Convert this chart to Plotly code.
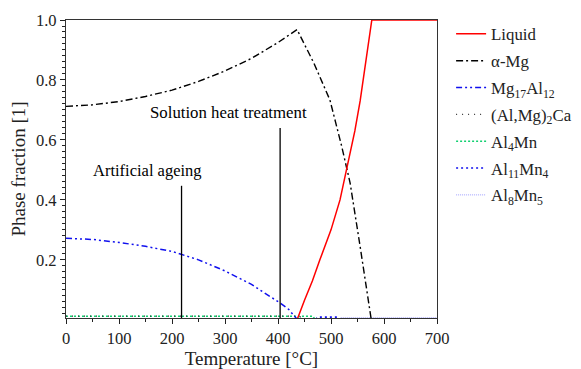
import plotly.graph_objects as go

# ---- data ----
liq_T = [0, 436, 450, 465, 479, 500, 517, 530, 545, 555, 565, 572, 577, 700]
liq_f = [0, 0, 0.065, 0.13, 0.2, 0.30, 0.40, 0.51, 0.63, 0.73, 0.85, 0.94, 1.0, 1.0]

amg_T = [0, 50, 100, 150, 200, 250, 300, 350, 400, 436, 468, 498, 520, 536, 555, 565, 576, 700]
amg_f = [0.712, 0.717, 0.728, 0.745, 0.766, 0.795, 0.83, 0.872, 0.925, 0.968, 0.855, 0.733, 0.58, 0.457, 0.244, 0.13, 0, 0]

mga_T = [0, 50, 100, 150, 200, 250, 300, 350, 404, 420, 437, 700]
mga_f = [0.272, 0.268, 0.258, 0.245, 0.228, 0.2, 0.163, 0.118, 0.056, 0.035, 0.0, 0.0]

ca_T = [0, 440, 450, 700]
ca_f = [0.012, 0.012, 0, 0]

al4mn_T = [0, 466, 470, 700]
al4mn_f = [0.012, 0.012, 0, 0]

al11_T = [0, 470, 475, 513, 518, 700]
al11_f = [0, 0, 0.009, 0.009, 0, 0]

al8_T = [0, 513, 518, 700]
al8_f = [0, 0, 0.007, 0.007]

ageing_T = 218
ageing_top = 0.447
sht_T = 404
sht_top = 0.64

FONT = "'Liberation Serif', 'DejaVu Serif', serif"

fig = go.Figure()

def add(x, y, name, color, dash, width=1.5):
    fig.add_trace(go.Scatter(x=x, y=y, mode="lines", name=name, legendgroup=name,
                             line=dict(color=color, dash=dash, width=width)))

add(al4mn_T, al4mn_f, "Al<sub>4</sub>Mn", "#10d070", "2px,2px", 1.6)
add(ca_T, ca_f, "(Al,Mg)<sub>2</sub>Ca", "#333333", "1px,5px", 1.3)
add(al11_T, al11_f, "Al<sub>11</sub>Mn<sub>4</sub>", "#1010ee", "2px,3px", 1.6)
add(al8_T, al8_f, "Al<sub>8</sub>Mn<sub>5</sub>", "#a0a0ff", "1px,1px", 1.0)
add(mga_T, mga_f, "Mg<sub>17</sub>Al<sub>12</sub>", "#1010ee", "6px,3px,2px,3px,2px,3px", 1.5)
add(amg_T, amg_f, "α-Mg", "black", "7px,3px,2px,3px", 1.4)
add(liq_T, liq_f, "Liquid", "#ff0000", "solid", 1.5)

# legend order as in reference
order = ["Liquid", "α-Mg", "Mg<sub>17</sub>Al<sub>12</sub>", "(Al,Mg)<sub>2</sub>Ca",
         "Al<sub>4</sub>Mn", "Al<sub>11</sub>Mn<sub>4</sub>", "Al<sub>8</sub>Mn<sub>5</sub>"]
for tr in fig.data:
    tr.legendrank = order.index(tr.name)

# process markers
fig.add_shape(type="line", x0=ageing_T, x1=ageing_T, y0=0, y1=ageing_top,
              line=dict(color="black", width=1.3))
fig.add_shape(type="line", x0=sht_T, x1=sht_T, y0=0, y1=sht_top,
              line=dict(color="black", width=1.3))
fig.add_annotation(x=ageing_T, y=ageing_top + 0.012, text="Artificial ageing", showarrow=False,
                   xanchor="right", yanchor="bottom", xshift=22, font=dict(family=FONT, size=16.5, color="black"))
fig.add_annotation(x=sht_T, y=sht_top + 0.012, text="Solution heat treatment", showarrow=False,
                   xanchor="right", yanchor="bottom", xshift=29, font=dict(family=FONT, size=16.8, color="black"))

# the page body has an 8px margin, so the figure is 8px smaller than the window
fig.update_layout(
    width=573, height=361,
    margin=dict(l=58, r=144, t=12, b=51, autoexpand=False),
    paper_bgcolor="white", plot_bgcolor="white",
    font=dict(family=FONT, size=16.5, color="#222"),
    showlegend=True,
    legend=dict(x=1.038, y=1.012, xanchor="left", yanchor="top", bgcolor="rgba(0,0,0,0)",
                font=dict(family=FONT, size=16.8, color="#222"), tracegroupgap=2,
                itemwidth=30, maxheight=1000),
    xaxis=dict(range=[0, 700], tickvals=[0, 100, 200, 300, 400, 500, 600, 700], automargin=False,
               ticks="outside", ticklen=5, tickcolor="#222", showgrid=False, zeroline=False,
               showline=True, linecolor="#333", linewidth=1.3, mirror=True,
               minor=dict(dtick=50, ticks="outside", ticklen=3, tickcolor="#222"),
               title=dict(text="Temperature [°C]", font=dict(family=FONT, size=19), standoff=8)),
    yaxis=dict(range=[0.006, 1.0], tickvals=[0.2, 0.4, 0.6, 0.8, 1.0], ticktext=["0.2", "0.4", "0.6", "0.8", "1.0"],
               automargin=False,
               ticks="outside", ticklen=5, tickcolor="#222", showgrid=False, zeroline=False,
               showline=True, linecolor="#333", linewidth=1.3, mirror=True,
               minor=dict(tickvals=[round(0.02 * i, 2) for i in range(1, 50)], ticks="outside", ticklen=3, tickcolor="#222"),
               title=dict(text="Phase fraction [1]", font=dict(family=FONT, size=19), standoff=6)),
)

fig.write_html("out.html")
